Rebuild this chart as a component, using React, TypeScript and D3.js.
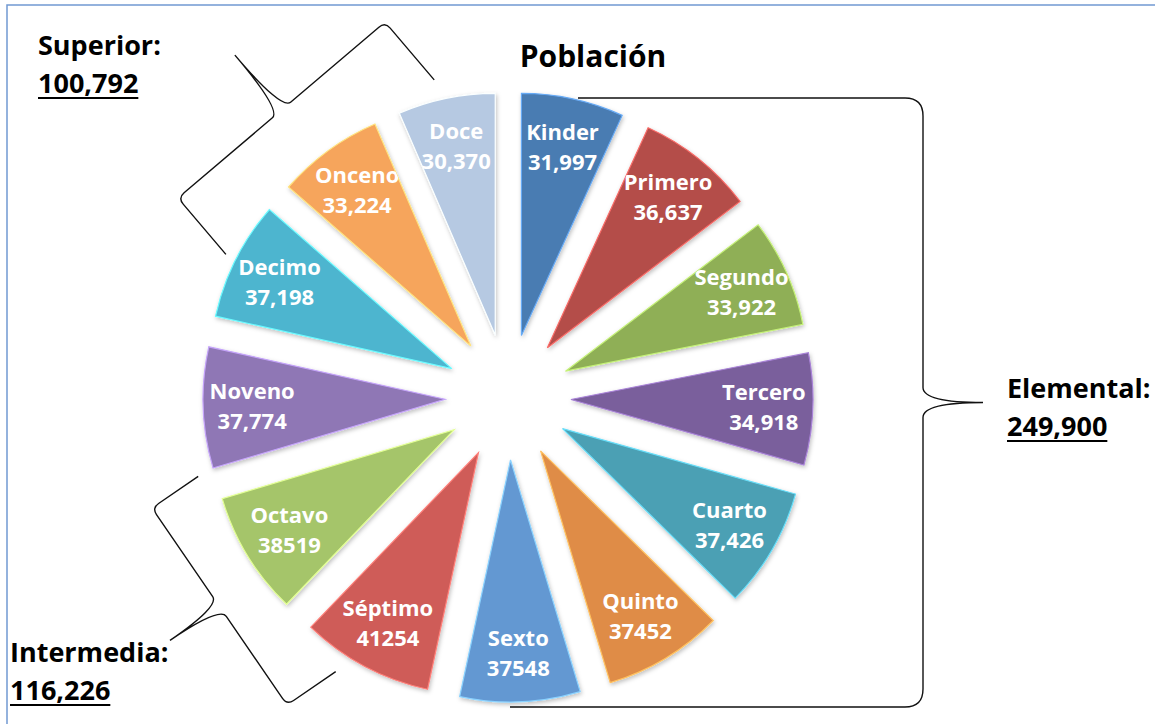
import { useEffect, useRef } from "react";
import * as d3 from "d3";

// grados escolares (orden del pastel, empezando arriba en sentido horario)
const grados = [
  "Kinder", "Primero", "Segundo", "Tercero", "Cuarto", "Quinto", "Sexto",
  "Séptimo", "Octavo", "Noveno", "Decimo", "Onceno", "Doce",
];
const poblacion = [
  31997, 36637, 33922, 34918, 37426, 37452, 37548,
  41254, 38519, 37774, 37198, 33224, 30370,
];
// etiquetas tal como aparecen (algunas sin coma)
const etiquetas = [
  "31,997", "36,637", "33,922", "34,918", "37,426", "37452", "37548",
  "41254", "38519", "37,774", "37,198", "33,224", "30,370",
];
const colores = [
  "#4a7bb2", "#b44d4a", "#8faf57", "#7a5e9c", "#4ba0b4", "#df8c46", "#6498d2",
  "#cf5c58", "#a5c56b", "#8f77b5", "#4db5cf", "#f6a55c", "#b6c9e2",
];
const niveles = [
  { nombre: "Superior:", total: "100,792" },
  { nombre: "Elemental:", total: "249,900" },
  { nombre: "Intermedia:", total: "116,226" },
];

const width = 1155;
const height = 724;
const cx = 508;
const cy = 397;
const R = 242;
const explode = 63;
const labelR = 193;
const font = "'Open Sans', sans-serif";

// llave "}" girada: A,B extremos del lomo, side = lado de la punta
function llave(
  A: [number, number], B: [number, number], side: number,
  arm1: number, arm2: number, tip: number, r: number, c: number
) {
  const L = Math.hypot(B[0] - A[0], B[1] - A[1]);
  const ux = (B[0] - A[0]) / L, uy = (B[1] - A[1]) / L;
  const vx = uy * side, vy = -ux * side;
  const P = (s: number, n: number) => [A[0] + s * ux + n * vx, A[1] + s * uy + n * vy].map((d) => d.toFixed(1)).join(",");
  const m = L / 2;
  return [
    `M${P(0, -arm1)}`, `L${P(0, -r)}`, `Q${P(0, 0)} ${P(r, 0)}`,
    `L${P(m - c, 0)}`, `Q${P(m, 0)} ${P(m, tip)}`, `Q${P(m, 0)} ${P(m + c, 0)}`,
    `L${P(L - r, 0)}`, `Q${P(L, 0)} ${P(L, -r)}`, `L${P(L, -arm2)}`,
  ].join(" ");
}

function App() {
  const ref = useRef<SVGSVGElement>(null);

  useEffect(() => {
    const svg = d3.select(ref.current);
    svg.selectAll("*").remove();

    const defs = svg.append("defs");
    const f = defs.append("filter").attr("id", "sombra").attr("x", "-20%").attr("y", "-20%").attr("width", "140%").attr("height", "140%");
    f.append("feDropShadow").attr("dx", 1).attr("dy", 2).attr("stdDeviation", 2).attr("flood-color", "#000").attr("flood-opacity", 0.25);

    // marco
    svg.append("rect").attr("x", 7).attr("y", 5).attr("width", 1200).attr("height", 800)
      .attr("fill", "none").attr("stroke", "#7199d2").attr("stroke-width", 1.5);

    // llaves
    const llaves = [
      llave([385, 22], [178, 198], -1, 76, 74, 72, 8, 12),
      llave([923, 98], [923, 707], 1, 345, 413, 60, 18, 15),
      llave([152, 508], [287, 705], -1, 56, 59, 60, 8, 12),
    ];
    svg.selectAll(".llave").data(llaves).enter().append("path")
      .attr("d", (d) => d).attr("fill", "none").attr("stroke", "#111").attr("stroke-width", 1.4);

    const pie = d3.pie<number>().sort(null).value((d) => d);
    const arcs = pie(poblacion);
    const arc = d3.arc<d3.PieArcDatum<number>>().innerRadius(0).outerRadius(R);
    const labelArc = d3.arc<d3.PieArcDatum<number>>().innerRadius(labelR).outerRadius(labelR);

    const g = svg.append("g").attr("transform", `translate(${cx},${cy})`);

    arcs.forEach((a, i) => {
      const mid = (a.startAngle + a.endAngle) / 2;
      const ox = explode * Math.sin(mid), oy = -explode * Math.cos(mid);
      const sg = g.append("g").attr("transform", `translate(${ox},${oy})`);
      defs.append("clipPath").attr("id", `clip${i}`).append("path").attr("d", arc(a));
      sg.append("path").attr("d", arc(a)).attr("fill", colores[i])
        .attr("stroke", d3.color(colores[i])!.brighter(0.9).formatHex()).attr("stroke-width", 1.2)
        .attr("filter", "url(#sombra)");
      const [lx, ly] = labelArc.centroid(a);
      const t = sg.append("g").attr("clip-path", `url(#clip${i})`)
        .attr("fill", "#fff").attr("font-family", font).attr("font-weight", 700)
        .attr("font-size", 22).attr("text-anchor", "middle");
      t.append("text").attr("x", lx).attr("y", ly - 7).text(grados[i]);
      t.append("text").attr("x", lx).attr("y", ly + 23).text(etiquetas[i]);
    });

    // titulo
    svg.append("text").attr("x", 593).attr("y", 67).attr("text-anchor", "middle")
      .attr("font-family", font).attr("font-weight", 700).attr("font-size", 30).attr("fill", "#000")
      .text("Población");

    const pos = [[38, 55], [1007, 398], [10, 662]];
    niveles.forEach((n, i) => {
      const [x, y] = pos[i];
      const tg = svg.append("g").attr("font-family", font).attr("font-weight", 700)
        .attr("font-size", 27).attr("fill", "#000");
      tg.append("text").attr("x", x).attr("y", y).text(n.nombre);
      const num = tg.append("text").attr("x", x).attr("y", y + 38).text(n.total);
      const w = (num.node() as SVGTextElement).getComputedTextLength();
      tg.append("line").attr("x1", x).attr("x2", x + w).attr("y1", y + 43).attr("y2", y + 43)
        .attr("stroke", "#000").attr("stroke-width", 2);
    });
  }, []);

  return (
    <svg ref={ref} width={width} height={height}
      style={{ position: "absolute", left: 0, top: 0, background: "#fff" }} />
  );
}

export default App;
